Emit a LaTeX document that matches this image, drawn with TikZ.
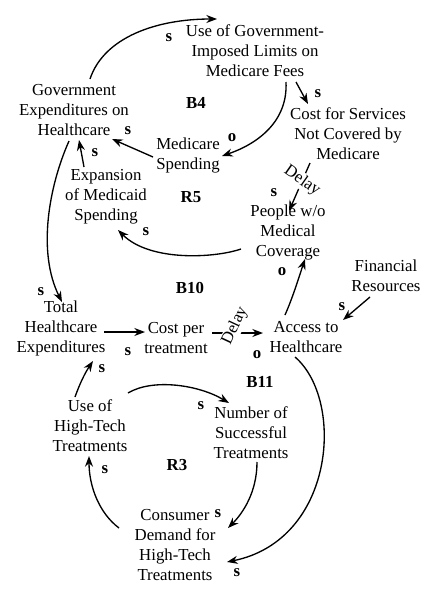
\documentclass[tikz,border=0pt]{standalone}
\usepackage{fontspec}
\setmainfont{Liberation Serif}
\usetikzlibrary{arrows.meta,calc}
\begin{document}
\begin{tikzpicture}[x=0.75pt,y=-0.75pt,
  var/.style={align=center,inner sep=0pt,font=\fontsize{12.6}{15}\selectfont},
  pol/.style={inner sep=0pt,font=\bfseries\fontsize{12.6}{15}\selectfont},
  loopl/.style={inner sep=0pt,font=\bfseries\fontsize{12.6}{15}\selectfont},
  arr/.style={line width=1pt,-{Stealth[length=8pt,width=6pt]}},
  dly/.style={fill=white,inner sep=0.5pt,font=\fontsize{12.6}{15}\selectfont}]
\useasboundingbox (0,0) rectangle (430,603);
% variables
\node[var] (gov) at (74,110) {Government\\Expenditures on\\Healthcare};
\node[var] (limits) at (255,51) {Use of Government-\\Imposed Limits on\\Medicare Fees};
\node[var] (costsvc) at (348,134) {Cost for Services\\Not Covered by\\Medicare};
\node[var] (medicare) at (188,155) {Medicare\\Spending};
\node[var] (medicaid) at (106,197) {Expansion\\of Medicaid\\Spending};
\node[var] (people) at (288,232) {People w/o\\Medical\\Coverage};
\node[var] (total) at (61,328) {Total\\Healthcare\\Expenditures};
\node[var] (cost) at (176,338) {Cost per\\treatment};
\node[var] (access) at (306,337) {Access to\\Healthcare};
\node[var] (fin) at (386,276) {Financial\\Resources};
\node[var] (use) at (90,426) {Use of\\High-Tech\\Treatments};
\node[var] (num) at (251,433) {Number of\\Successful\\Treatments};
\node[var] (consumer) at (175,545) {Consumer\\Demand for\\High-Tech\\Treatments};
% links
\draw[arr] ($(gov)+(16,-31)$) .. controls +(14,-42) and +(-60,0) .. ($(limits)+(-38,-32)$);
\draw[arr] ($(limits)+(41,31)$) -- ($(costsvc)+(-40,-30)$);
\draw[arr] ($(limits)+(31,31)$) .. controls +(2,40) and +(35,-12) .. ($(medicare)+(34,1)$);
\draw[arr] ($(medicare)+(-35,2)$) -- ($(gov)+(38,29)$);
\draw[arr] ($(medicaid)+(-22,-30)$) -- ($(gov)+(5,30)$);
\draw[arr] ($(costsvc)+(-38,29)$) -- ($(people)+(1,-21)$);
\node[dly,rotate=-35] (d1) at (302,181) {Delay};
\draw[arr] ($(people)+(-47,17)$) .. controls +(-26,9) and +(32,32) .. ($(medicaid)+(12,33)$);
\draw[arr] ($(gov)+(-5,31)$) .. controls +(-20,45) and +(-25,-50) .. ($(total)+(1,-26)$);
\draw[arr] ($(total)+(43,4)$) -- ($(cost)+(-31,-6)$);
\draw[arr] ($(cost)+(36,-5)$) -- ($(access)+(-43,-4)$);
\node[dly,rotate=65] (d2) at (235,326) {Delay};
\draw[arr] ($(access)+(-21,-22)$) .. controls +(8,-18) and +(-5,15) .. ($(people)+(17,27)$);
\draw[arr] ($(fin)+(-16,21)$) -- ($(access)+(37,-17)$);
\draw[arr] ($(access)+(-11,20)$) .. controls +(50,43) and +(108,-22) .. ($(consumer)+(52,17)$);
\draw[arr] ($(use)+(-15,-29)$) .. controls +(5,-14) and +(-8,12) .. ($(total)+(32,33)$);
\draw[arr] ($(use)+(38,-33)$) .. controls +(25,-15) and +(-30,-18) .. ($(num)+(-22,-30)$);
\draw[arr] ($(num)+(6,29)$) .. controls +(0,30) and +(15,-15) .. ($(consumer)+(53,-17)$);
\draw[arr] ($(consumer)+(-56,-17)$) .. controls +(-20,-15) and +(0,30) .. ($(use)+(-1,30)$);
% polarities
\node[pol] (p1) at (169,38) {s};
\node[pol] (p2) at (128,131) {s};
\node[pol] (p3) at (95,153) {s};
\node[pol] (p4) at (232,138) {o};
\node[pol] (p5) at (318,94) {s};
\node[pol] (p6) at (274,193) {s};
\node[pol] (p7) at (146,232) {s};
\node[pol] (p8) at (41,292) {s};
\node[pol] (p9) at (128,352) {s};
\node[pol] (p10) at (282,272) {o};
\node[pol] (p11) at (257,355) {o};
\node[pol] (p12) at (342,307) {s};
\node[pol] (p13) at (102,369) {s};
\node[pol] (p14) at (201,406) {s};
\node[pol] (p15) at (105,470) {s};
\node[pol] (p16) at (218,514) {s};
\node[pol] (p17) at (237,573) {s};
% loop labels
\node[loopl] (B4) at (196,103) {B4};
\node[loopl] (R5) at (191,197) {R5};
\node[loopl] (B10) at (190,288) {B10};
\node[loopl] (B11) at (260,382) {B11};
\node[loopl] (R3) at (177,465) {R3};
\end{tikzpicture}
\end{document}
